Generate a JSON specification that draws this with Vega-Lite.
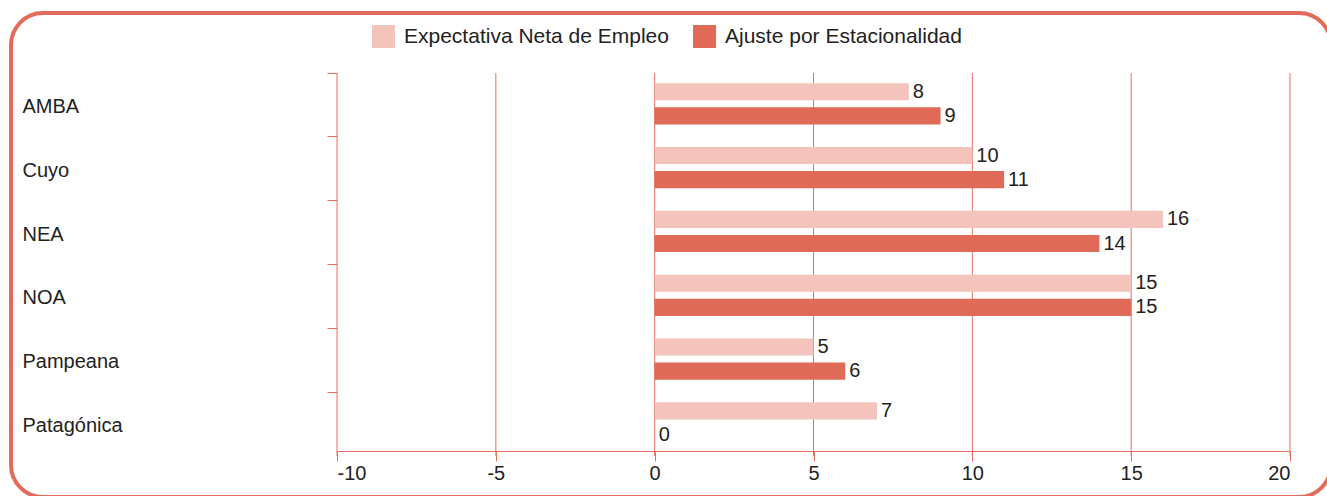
{
  "$schema": "https://vega.github.io/schema/vega-lite/v6.json",
  "width": 1320,
  "height": 484,
  "autosize": {"type": "none"},
  "padding": {"left": 11, "top": 13, "right": -4, "bottom": -1},
  "background": "white",
  "config": {
    "view": {"stroke": "#E26B5B", "strokeWidth": 4, "cornerRadius": 32},
    "font": "Liberation Sans",
    "text": {"font": "Liberation Sans"}
  },
  "datasets": {
    "barras": [
      {"region": "AMBA", "serie": "Expectativa Neta de Empleo", "valor": 8},
      {"region": "AMBA", "serie": "Ajuste por Estacionalidad", "valor": 9},
      {"region": "Cuyo", "serie": "Expectativa Neta de Empleo", "valor": 10},
      {"region": "Cuyo", "serie": "Ajuste por Estacionalidad", "valor": 11},
      {"region": "NEA", "serie": "Expectativa Neta de Empleo", "valor": 16},
      {"region": "NEA", "serie": "Ajuste por Estacionalidad", "valor": 14},
      {"region": "NOA", "serie": "Expectativa Neta de Empleo", "valor": 15},
      {"region": "NOA", "serie": "Ajuste por Estacionalidad", "valor": 15},
      {"region": "Pampeana", "serie": "Expectativa Neta de Empleo", "valor": 5},
      {"region": "Pampeana", "serie": "Ajuste por Estacionalidad", "valor": 6},
      {"region": "Patagónica", "serie": "Expectativa Neta de Empleo", "valor": 7},
      {"region": "Patagónica", "serie": "Ajuste por Estacionalidad", "valor": 0}
    ],
    "marcas": [
      {"t": -10}, {"t": -5}, {"t": 0}, {"t": 5}, {"t": 10}, {"t": 15}, {"t": 20}
    ]
  },
  "layer": [
    {
      "data": {"name": "marcas"},
      "mark": {"type": "rule", "color": "#E5705F", "strokeWidth": 1},
      "encoding": {
        "x": {"field": "t", "type": "quantitative", "scale": {"domain": [-10, 20], "range": [326, 1279], "nice": false, "zero": false}},
        "y": {"datum": "AMBA", "type": "nominal", "bandPosition": 0, "scale": {"domain": ["AMBA", "Cuyo", "NEA", "NOA", "Pampeana", "Patagónica"], "range": [60, 443], "paddingInner": 0, "paddingOuter": 0}},
        "y2": {"datum": "Patagónica", "bandPosition": 1}
      }
    },
    {
      "data": {"name": "barras"},
      "mark": {"type": "bar"},
      "encoding": {
        "x": {"field": "valor", "type": "quantitative",
          "scale": {"domain": [-10, 20], "range": [326, 1279], "nice": false, "zero": false},
          "axis": {"values": [-10, -5, 0, 5, 10, 15, 20], "title": null, "grid": false, "offset": -46,
            "labelExpr": "datum.value + ''",
            "domainColor": "#E5705F", "tickColor": "#E5705F", "tickSize": 10, "labelFontSize": 20,
            "labelColor": "#222222", "labelPadding": 2, "labelFont": "Liberation Sans"}},
        "y": {"field": "region", "type": "nominal",
          "scale": {"domain": ["AMBA", "Cuyo", "NEA", "NOA", "Pampeana", "Patagónica"], "range": [60, 443], "paddingInner": 0, "paddingOuter": 0},
          "axis": {"title": null, "grid": false, "domain": false, "offset": -326, "bandPosition": 0,
            "tickSize": 10, "tickColor": "#E5705F", "labelAlign": "left", "labelBaseline": "middle",
            "labelPadding": 305, "labelOffset": 2, "labelFontSize": 20, "labelColor": "#222222",
            "labelLimit": 300, "labelFont": "Liberation Sans"}},
        "yOffset": {"field": "serie", "type": "nominal",
          "scale": {"domain": ["Expectativa Neta de Empleo", "Ajuste por Estacionalidad"], "paddingInner": 0.29, "paddingOuter": 0.468, "align": 0.45}},
        "color": {"field": "serie", "type": "nominal",
          "scale": {"domain": ["Expectativa Neta de Empleo", "Ajuste por Estacionalidad"], "range": ["#F3C3BC", "#E06A58"]},
          "legend": {"title": null, "orient": "none", "legendX": 361, "legendY": 12, "direction": "horizontal",
            "symbolType": "square", "symbolSize": 529, "symbolStrokeWidth": 0, "labelFontSize": 21,
            "labelColor": "#222222", "labelOffset": 9, "columnPadding": 24, "padding": 0, "labelLimit": 400,
            "labelFont": "Liberation Sans"}}
      }
    },
    {
      "data": {"name": "barras"},
      "mark": {"type": "text", "align": "left", "baseline": "middle", "dx": 4, "fontSize": 20, "color": "#222222"},
      "encoding": {
        "x": {"field": "valor", "type": "quantitative"},
        "y": {"field": "region", "type": "nominal"},
        "yOffset": {"field": "serie", "type": "nominal"},
        "text": {"field": "valor", "type": "quantitative"}
      }
    }
  ]
}
